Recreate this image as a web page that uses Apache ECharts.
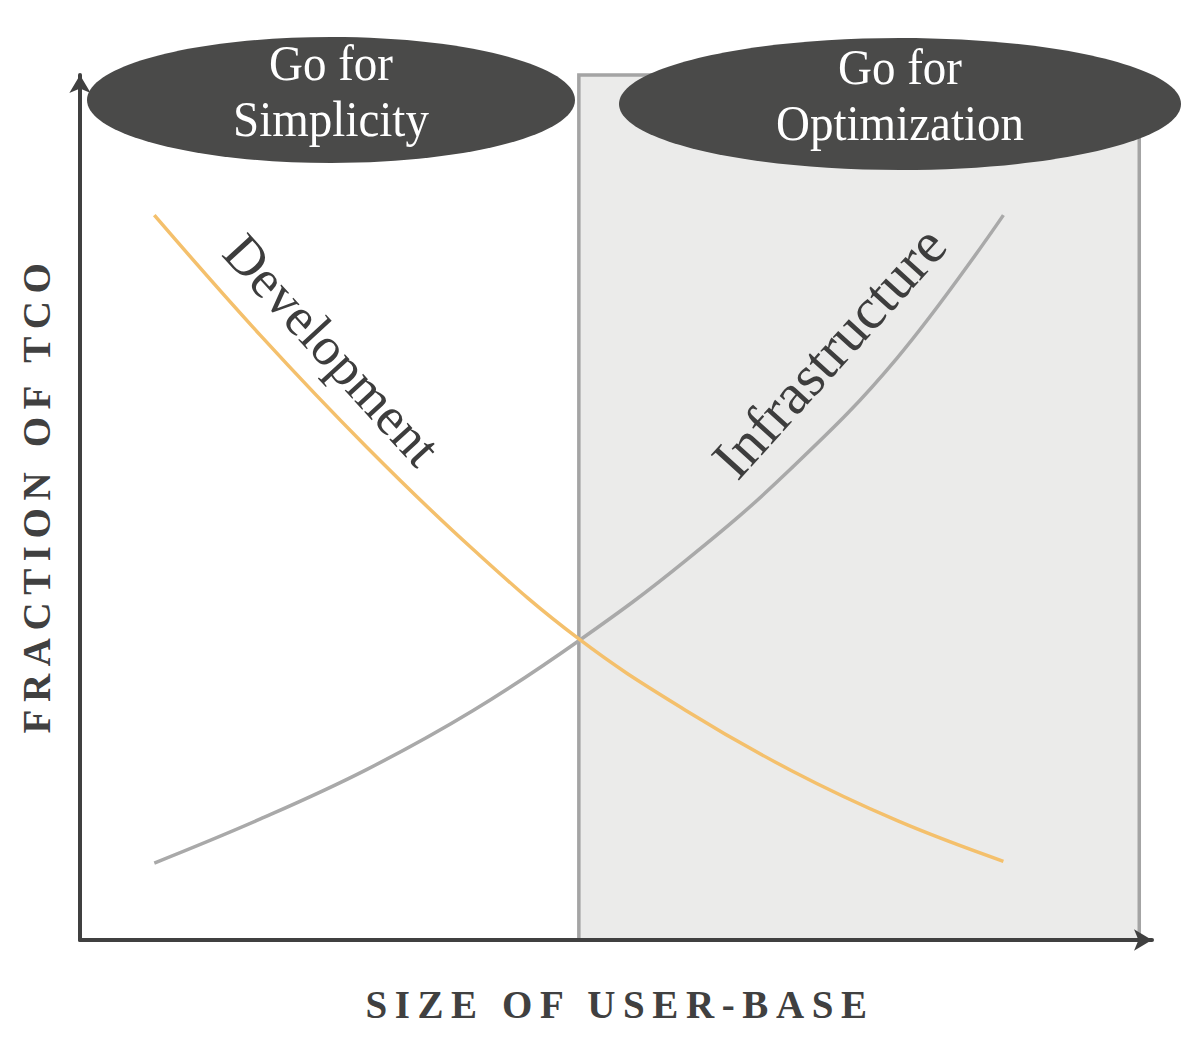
<!DOCTYPE html>
<html>
<head>
<meta charset="utf-8">
<script src="https://cdn.jsdelivr.net/npm/echarts@6.0.0/dist/echarts.min.js"></script>
<style>
html,body{margin:0;padding:0;background:#ffffff;}
#chart{width:1200px;height:1045px;}
</style>
</head>
<body>
<div id="chart"></div>
<script>
// ---- data ----
const userBase = [1, 2, 3, 4, 5, 6, 7, 8, 9];
const development = [83.8, 69.9, 57.0, 45.2, 34.8, 26.6, 19.6, 13.8, 9.1];
const infrastructure = [8.9, 14.0, 19.7, 26.5, 34.6, 43.8, 54.5, 67.3, 83.8];
const optimizationZone = [5, 10.28];
const xAxisTitle = 'SIZE OF USER-BASE';
const yAxisTitle = 'FRACTION OF TCO';
const zoneLabels = ['Go for\nSimplicity', 'Go for\nOptimization'];
const curveLabels = ['Development', 'Infrastructure'];

const SERIF = '"Liberation Serif", "Times New Roman", serif';
const AXIS_COLOR = '#404040';

const chart = echarts.init(document.getElementById('chart'), null, { renderer: 'svg' });

const axisTitleStyle = {
  fontFamily: SERIF,
  fontWeight: 'bold',
  fontSize: 39,
  color: AXIS_COLOR
};

const option = {
  animation: false,
  backgroundColor: '#ffffff',
  grid: { left: 80, right: 48, top: 75, bottom: 105, outerBoundsMode: 'none' },
  xAxis: {
    type: 'value',
    min: 0.3,
    max: 10.4,
    z: 10,
    name: xAxisTitle,
    nameLocation: 'middle',
    nameGap: 45,
    nameTextStyle: Object.assign({}, axisTitleStyle, { padding: [0, 0, 0, 8] }),
    axisLine: {
      show: true,
      onZero: false,
      symbol: ['none', 'arrow'],
      symbolSize: [16, 18],
      lineStyle: { color: AXIS_COLOR, width: 4 }
    },
    axisTick: { show: false },
    axisLabel: { show: false },
    splitLine: { show: false }
  },
  yAxis: {
    type: 'value',
    min: 0,
    max: 100,
    z: 10,
    name: yAxisTitle,
    nameLocation: 'middle',
    nameGap: 24,
    nameTextStyle: Object.assign({}, axisTitleStyle, { padding: [0, 0, 0, 26] }),
    axisLine: {
      show: true,
      onZero: false,
      symbol: ['none', 'arrow'],
      symbolSize: [16, 18],
      lineStyle: { color: AXIS_COLOR, width: 4 }
    },
    axisTick: { show: false },
    axisLabel: { show: false },
    splitLine: { show: false }
  },
  series: [
    {
      name: curveLabels[0],
      type: 'line',
      smooth: 0.4,
      showSymbol: false,
      z: 5,
      data: userBase.map((x, i) => [x, development[i]]),
      lineStyle: { color: '#F4C06C', width: 3.5 },
      markArea: {
        silent: true,
        z: 1,
        itemStyle: { color: '#EBEBEA', borderColor: '#A4A4A4', borderWidth: 3.5 },
        data: [[
          { xAxis: optimizationZone[0], yAxis: 0 },
          { xAxis: optimizationZone[1], yAxis: 100 }
        ]]
      }
    },
    {
      name: curveLabels[1],
      type: 'line',
      smooth: 0.4,
      showSymbol: false,
      z: 4,
      data: userBase.map((x, i) => [x, infrastructure[i]]),
      lineStyle: { color: '#A9A9A9', width: 3.5 }
    }
  ],
  graphic: [
    { type: 'ellipse', z: 100, shape: { cx: 331, cy: 100, rx: 244, ry: 63 }, style: { fill: '#4A4A49' } },
    { type: 'text', z: 101, x: 331, y: 91, scaleY: 1.1,
      style: { text: zoneLabels[0], font: '47px ' + SERIF, fill: '#ffffff',
               align: 'center', verticalAlign: 'middle', textAlign: 'center', textVerticalAlign: 'middle', lineHeight: 51 } },
    { type: 'ellipse', z: 100, shape: { cx: 900, cy: 104, rx: 281, ry: 66 }, style: { fill: '#4A4A49' } },
    { type: 'text', z: 101, x: 900, y: 95, scaleY: 1.1,
      style: { text: zoneLabels[1], font: '47px ' + SERIF, fill: '#ffffff',
               align: 'center', verticalAlign: 'middle', textAlign: 'center', textVerticalAlign: 'middle', lineHeight: 51 } },
    { type: 'text', z: 50, x: 332, y: 350, rotation: -0.83,
      style: { text: curveLabels[0], font: '54px ' + SERIF, fill: '#3D3D3D',
               align: 'center', verticalAlign: 'middle', textAlign: 'center', textVerticalAlign: 'middle' } },
    { type: 'text', z: 50, x: 829, y: 352, rotation: 0.834,
      style: { text: curveLabels[1], font: '58px ' + SERIF, fill: '#3D3D3D',
               align: 'center', verticalAlign: 'middle', textAlign: 'center', textVerticalAlign: 'middle' } }
  ]
};

chart.setOption(option);

function spaceAxisTitles() {
  const texts = document.querySelectorAll('#chart text');
  texts.forEach(t => {
    const c = t.textContent;
    if (c === xAxisTitle || c === yAxisTitle) {
      t.setAttribute('letter-spacing', '7.6px');
    }
  });
}
chart.on('finished', spaceAxisTitles);
spaceAxisTitles();
setTimeout(spaceAxisTitles, 0);
setTimeout(spaceAxisTitles, 100);
</script>
</body>
</html>
